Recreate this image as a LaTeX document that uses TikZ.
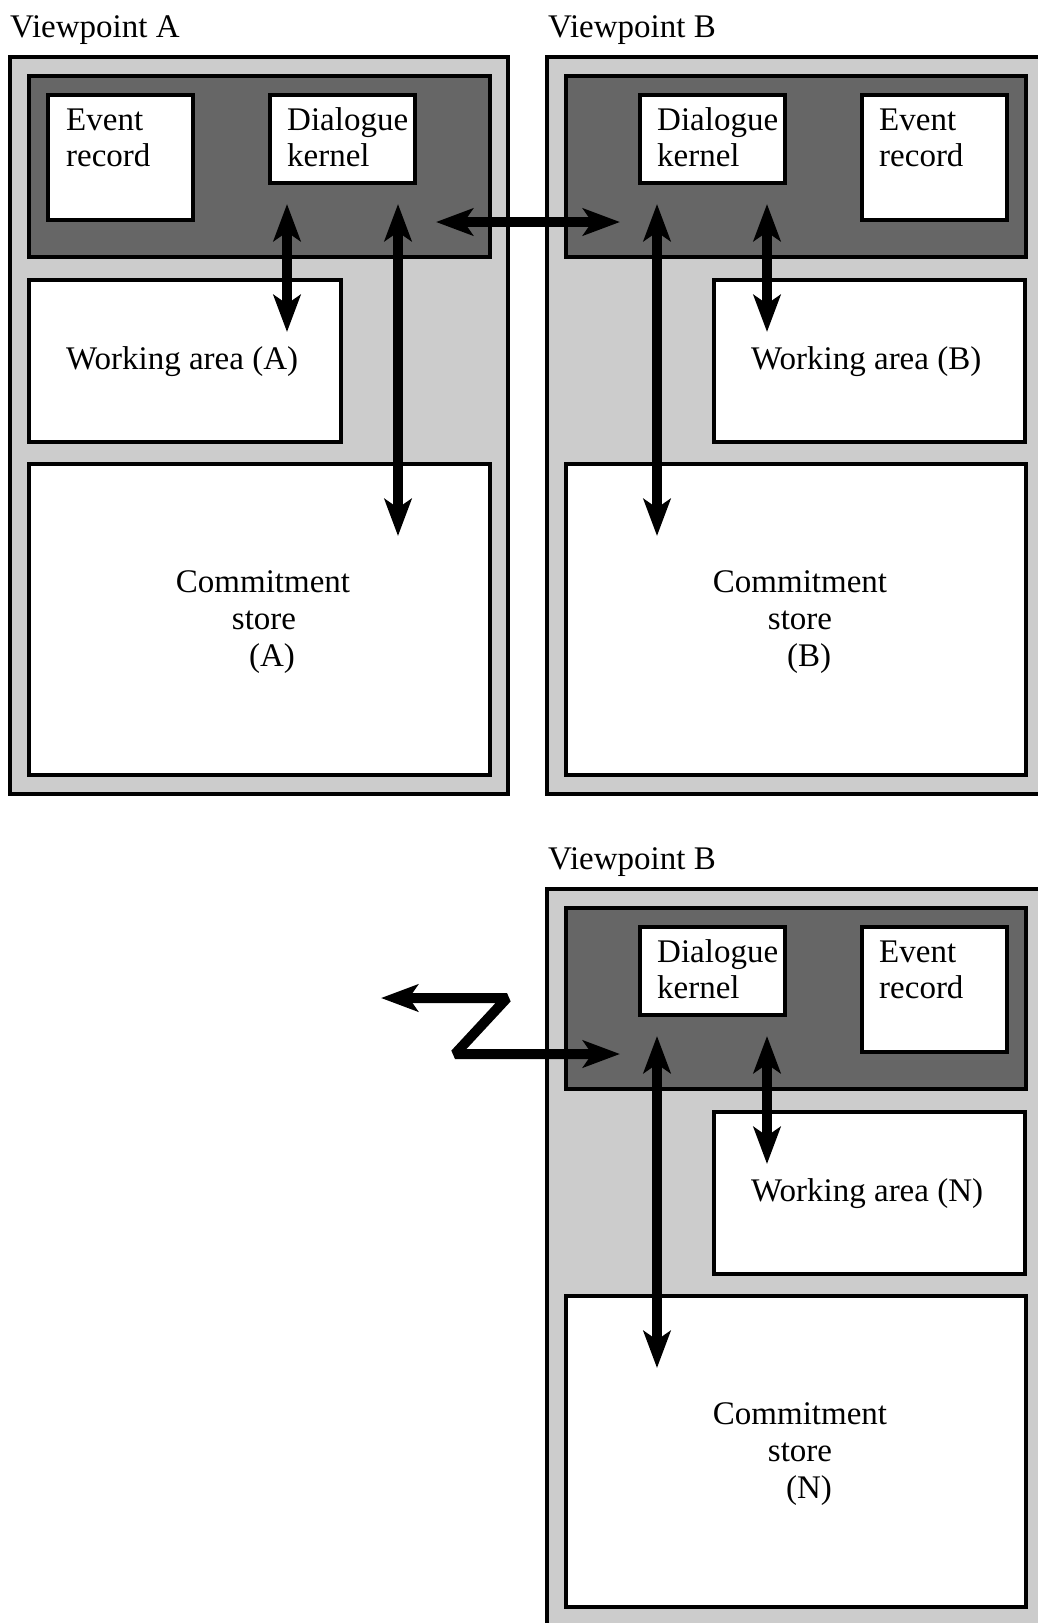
\documentclass[tikz,border=0pt]{standalone}
\usepackage{fontspec}
\setmainfont{Liberation Serif}
\usetikzlibrary{arrows.meta}
\definecolor{lightfill}{HTML}{CCCCCC}
\definecolor{darkfill}{HTML}{666666}
\begin{document}
\begin{tikzpicture}[x=1pt,y=-1pt,
  boxbase/.style={draw=black, line width=3.5pt, inner sep=0pt, outer sep=0pt, anchor=north west},
  frame/.style={boxbase, fill=lightfill},
  panel/.style={boxbase, fill=darkfill},
  cell/.style={boxbase, fill=white},
  txt/.style={font=\fontsize{33}{37}\selectfont, inner sep=0pt, anchor=base west},
  ctxt/.style={font=\fontsize{33}{37}\selectfont, inner sep=0pt, anchor=base},
  tip/.tip={Stealth[length=37pt,width=27pt,inset=9pt]},
  link/.style={line width=10pt, tip-tip}]
\useasboundingbox (0,0) rectangle (1038,1623);
\clip (0,0) rectangle (1038,1623);

% ---------- Viewpoint A ----------
\node[txt] (vpA) at (10,37) {Viewpoint A};
\node[frame, minimum width=498pt, minimum height=737pt] (outerA) at (10,57) {};
\node[panel, minimum width=461pt, minimum height=181pt] (darkA) at (29,76) {};
\node[cell, minimum width=145pt, minimum height=125pt] (evA) at (48,95) {};
\node[cell, minimum width=145pt, minimum height=88pt] (kA) at (270,95) {};
\node[cell, minimum width=312pt, minimum height=162pt] (wA) at (29,280) {};
\node[cell, minimum width=461pt, minimum height=311pt] (cA) at (29,464) {};
\node[txt] (evA1) at (66,130) {Event};
\node[txt] (evA2) at (66,166) {record};
\node[txt] (kA1) at (287,130) {Dialogue};
\node[txt] (kA2) at (287,166) {kernel};
\node[txt] (wAt) at (66,369) {Working area (A)};
\node[ctxt] (cA1) at (263,592) {Commitment};
\node[ctxt] (cA2) at (264,629) {store};
\node[ctxt] (cA3) at (272,666) {(A)};

% ---------- Viewpoint B ----------
\node[txt] (vpB) at (548,37) {Viewpoint B};
\node[frame, minimum width=513pt, minimum height=737pt] (outerB) at (547,57) {};
\node[panel, minimum width=460pt, minimum height=181pt] (darkB) at (566,76) {};
\node[cell, minimum width=145pt, minimum height=88pt] (kB) at (640,95) {};
\node[cell, minimum width=145pt, minimum height=125pt] (evB) at (862,95) {};
\node[cell, minimum width=311pt, minimum height=162pt] (wB) at (714,280) {};
\node[cell, minimum width=460pt, minimum height=311pt] (cB) at (566,464) {};
\node[txt] (kB1) at (657,130) {Dialogue};
\node[txt] (kB2) at (657,166) {kernel};
\node[txt] (evB1) at (879,130) {Event};
\node[txt] (evB2) at (879,166) {record};
\node[txt] (wBt) at (751,369) {Working area (B)};
\node[ctxt] (cB1) at (800,592) {Commitment};
\node[ctxt] (cB2) at (800,629) {store};
\node[ctxt] (cB3) at (809,666) {(B)};

% ---------- Viewpoint B (N) ----------
\node[txt] (vpN) at (548,869) {Viewpoint B};
\node[frame, minimum width=513pt, minimum height=771pt] (outerN) at (547,889) {};
\node[panel, minimum width=460pt, minimum height=181pt] (darkN) at (566,908) {};
\node[cell, minimum width=145pt, minimum height=88pt] (kN) at (640,927) {};
\node[cell, minimum width=145pt, minimum height=125pt] (evN) at (862,927) {};
\node[cell, minimum width=311pt, minimum height=162pt] (wN) at (714,1112) {};
\node[cell, minimum width=460pt, minimum height=311pt] (cN) at (566,1296) {};
\node[txt] (kN1) at (657,962) {Dialogue};
\node[txt] (kN2) at (657,998) {kernel};
\node[txt] (evN1) at (879,962) {Event};
\node[txt] (evN2) at (879,998) {record};
\node[txt] (wNt) at (751,1201) {Working area (N)};
\node[ctxt] (cN1) at (800,1424) {Commitment};
\node[ctxt] (cN2) at (800,1461) {store};
\node[ctxt] (cN3) at (809,1498) {(N)};

% ---------- connector end points ----------
\coordinate (kAw) at (287,204);
\coordinate (wAk) at (287,332);
\coordinate (kAc) at (398,204);
\coordinate (cAk) at (398,536);
\coordinate (abL) at (436,222);
\coordinate (abR) at (620,222);
\coordinate (kBc) at (657,204);
\coordinate (cBk) at (657,536);
\coordinate (kBw) at (767,204);
\coordinate (wBk) at (767,332);
\coordinate (kNc) at (657,1036);
\coordinate (cNk) at (657,1368);
\coordinate (kNw) at (767,1036);
\coordinate (wNk) at (767,1164);
\coordinate (zOut) at (381,998);
\coordinate (zTop) at (507,998);
\coordinate (zBot) at (455,1054);
\coordinate (zIn) at (620,1054);

% ---------- connectors ----------
\draw[link] (kAw) -- (wAk);
\draw[link] (kAc) -- (cAk);
\draw[link] (abL) -- (abR);
\draw[link] (kBc) -- (cBk);
\draw[link] (kBw) -- (wBk);
\draw[link] (kNc) -- (cNk);
\draw[link] (kNw) -- (wNk);
\draw[link, line join=bevel] (zOut) -- (zTop) -- (zBot) -- (zIn);
\end{tikzpicture}
\end{document}
